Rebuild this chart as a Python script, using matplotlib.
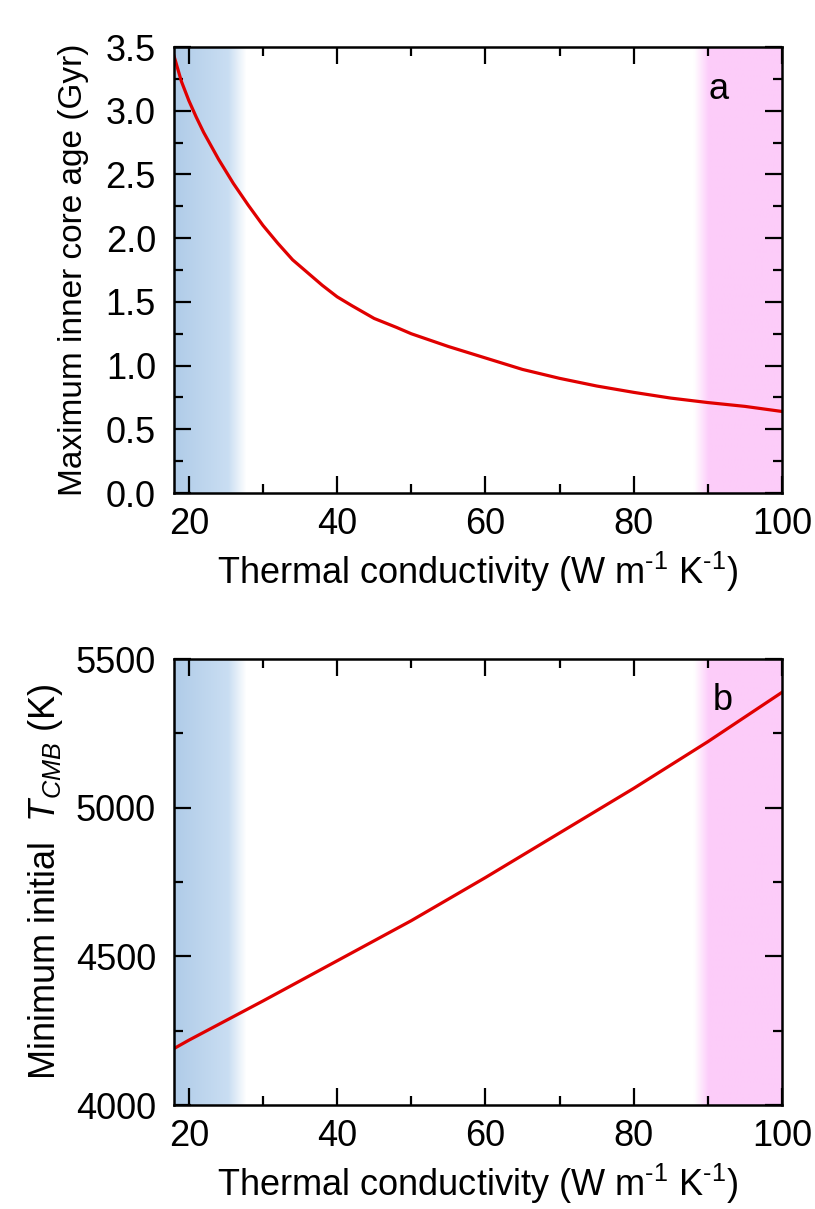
import numpy as np
import matplotlib
matplotlib.use("Agg")
import matplotlib.pyplot as plt

plt.rcParams["font.family"] = ["Liberation Sans", "DejaVu Sans"]
plt.rcParams["mathtext.fontset"] = "custom"
plt.rcParams["mathtext.rm"] = "Liberation Sans"
plt.rcParams["mathtext.it"] = "Liberation Sans:italic"

# panel a: maximum inner core age (Gyr) vs thermal conductivity
k_a = [18, 19, 20, 21, 22, 24, 26, 28, 30, 32, 34, 36, 38, 40, 42, 45, 48,
       50, 55, 60, 65, 70, 75, 80, 85, 90, 95, 100]
age = [3.43, 3.23, 3.08, 2.95, 2.83, 2.62, 2.43, 2.26, 2.10, 1.96, 1.83,
       1.73, 1.63, 1.54, 1.47, 1.37, 1.30, 1.25, 1.15, 1.06, 0.97, 0.90,
       0.84, 0.79, 0.745, 0.71, 0.68, 0.64]

# panel b: minimum initial T_CMB (K)
k_b = [18, 20, 30, 40, 50, 60, 70, 80, 90, 100]
tcmb = [4190, 4218, 4350, 4485, 4620, 4765, 4915, 5065, 5222, 5388]

x_ticks = [20, 40, 60, 80, 100]
xlabel = r"Thermal conductivity (W m$^{\text{-1}}$ K$^{\text{-1}}$)"

FS = 26


def band_image(xmin, xmax, n=600):
    xs = np.linspace(xmin, xmax, n)
    img = np.ones((1, n, 3))
    blue_l = np.array([0.69, 0.80, 0.91])
    blue_r = np.array([0.79, 0.87, 0.95])
    pink = np.array([0.99, 0.80, 0.98])
    white = np.ones(3)
    for i, x in enumerate(xs):
        if x <= 25.3:
            t = (x - 18) / (25.3 - 18)
            c = blue_l + (blue_r - blue_l) * t
        elif x <= 27.7:
            t = (x - 25.3) / (27.7 - 25.3)
            c = blue_r + (white - blue_r) * t
        elif x <= 88.2:
            c = white
        elif x <= 90.2:
            t = (x - 88.2) / 2.0
            c = white + (pink - white) * t
        else:
            c = pink
        img[0, i] = c
    return img


def style_axis(ax, ylim, ymajor, yminor):
    ax.set_xlim(18, 100)
    ax.set_ylim(*ylim)
    ax.set_xticks(x_ticks)
    ax.set_xticks(np.arange(20, 101, 10), minor=True)
    ax.set_yticks(ymajor)
    ax.set_yticks(yminor, minor=True)
    ax.tick_params(which="both", direction="in", top=True, right=True,
                   labelsize=FS, width=1.6)
    ax.tick_params(which="major", length=12)
    ax.tick_params(which="minor", length=6.5)
    ax.tick_params(axis="x", which="major", pad=10)
    ax.tick_params(axis="y", which="major", pad=13)
    for s in ax.spines.values():
        s.set_linewidth(1.8)
    ax.set_xlabel(xlabel, fontsize=FS, labelpad=6)


fig = plt.figure(figsize=(8.15, 12.09), dpi=100)
ax1 = fig.add_axes([0.2135, 0.5922, 0.746, 0.3689])
ax2 = fig.add_axes([0.2135, 0.0860, 0.746, 0.3689])

img = band_image(18, 100)

ax1.imshow(img, extent=[18, 100, 0, 3.5], aspect="auto", zorder=0,
           interpolation="bilinear")
ax1.plot(k_a, age, color="#e00000", lw=2.3, zorder=2)
style_axis(ax1, (0, 3.5), np.arange(0, 3.51, 0.5), np.arange(0, 3.51, 0.25))
ax1.set_yticklabels([f"{v:.1f}" for v in np.arange(0, 3.51, 0.5)])
ax1.set_ylabel("Maximum inner core age (Gyr)", fontsize=24, labelpad=12)
ax1.text(0.895, 0.905, "a", transform=ax1.transAxes, fontsize=FS,
         ha="center", va="center")

ax2.imshow(img, extent=[18, 100, 4000, 5500], aspect="auto", zorder=0,
           interpolation="bilinear")
ax2.plot(k_b, tcmb, color="#e00000", lw=2.3, zorder=2)
style_axis(ax2, (4000, 5500), np.arange(4000, 5501, 500),
           np.arange(4000, 5501, 250))
ax2.set_ylabel("Minimum initial  $T_{CMB}$ (K)", fontsize=26, labelpad=8)
ax2.text(0.903, 0.908, "b", transform=ax2.transAxes, fontsize=FS,
         ha="center", va="center")

fig.savefig("out.png", dpi=100)
